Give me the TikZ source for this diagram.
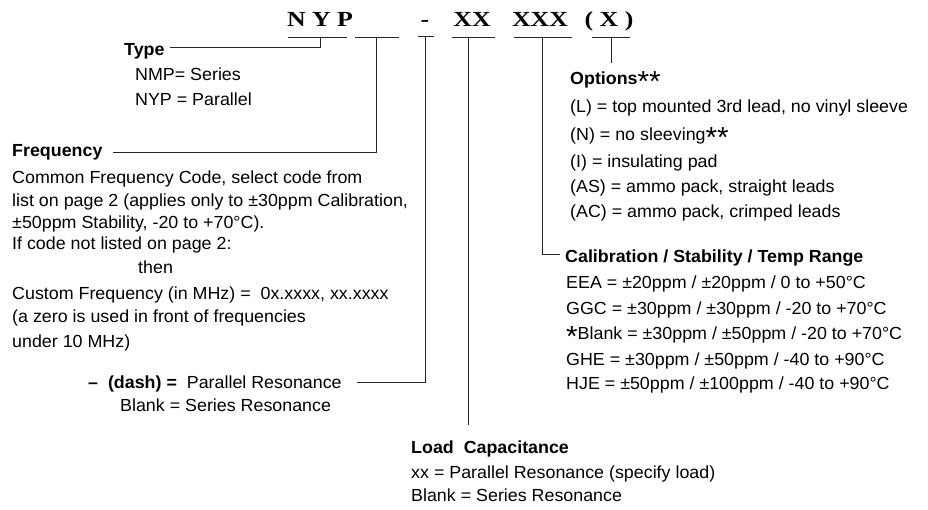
\documentclass[tikz,border=0pt]{standalone}
\usepackage{fontspec}
\setmainfont{Liberation Sans}[FakeStretch=1.02]
\newfontfamily\hdrfont{Liberation Serif}[FakeStretch=1.2]
\newcommand{\bigast}[1]{{\fontsize{29}{29}\selectfont\raisebox{-7pt}{#1}}}
\begin{document}
\begin{tikzpicture}[x=1pt,y=-1pt,
  txt/.style={anchor=base west,inner sep=0pt,font=\fontsize{17.5}{20}\selectfont},
  hdr/.style={anchor=base,inner sep=0pt,font=\hdrfont\bfseries\fontsize{21.5}{24}\selectfont},
  conn/.style={draw=black!85,line width=1pt}]
\useasboundingbox (0,0) rectangle (928,510);
% header codes
\node[hdr] (hNYP) at (320,27) {N Y P};
\node[hdr] (hDash) at (425,27) {-};
\node[hdr] (hXX) at (472,27) {XX};
\node[hdr] (hXXX) at (540,27) {XXX};
\node[hdr] (hX) at (609,27) {( X )};
% underline coordinates
\coordinate (uA1) at (288,38); \coordinate (uA2) at (347,38);
\coordinate (uB1) at (355,38); \coordinate (uB2) at (399,38);
\coordinate (uC1) at (418,37); \coordinate (uC2) at (434,37);
\coordinate (uD1) at (452,38); \coordinate (uD2) at (495,38);
\coordinate (uE1) at (514,38); \coordinate (uE2) at (572,38);
\coordinate (uF1) at (592,38); \coordinate (uF2) at (630,38);
\foreach \a in {A,B,C,D,E,F}{\draw[conn] (u\a1) -- (u\a2);}
% Type
\node[txt] (ltype) at (124,56) {\bfseries Type};
\node[txt] (ltype1) at (135,81) {NMP= Series};
\node[txt] (ltype2) at (135,106) {NYP = Parallel};
\coordinate (cType0) at (320,38);
\coordinate (cType1) at (170,48);
\draw[conn] (cType0) |- (cType1);
% Frequency
\node[txt] (lfreq) at (12,157) {\bfseries Frequency};
\node[txt] (lf1) at (12,184) {Common Frequency Code, select code from};
\node[txt] (lf2) at (12,207) {list on page 2 (applies only to ±30ppm Calibration,};
\node[txt] (lf3) at (12,229) {±50ppm Stability, -20 to +70°C).};
\node[txt] (lf4) at (12,250) {If code not listed on page 2:};
\node[txt] (lf5) at (138,274) {then};
\node[txt] (lf6) at (12,299) {Custom Frequency (in MHz) = \ 0x.xxxx, xx.xxxx};
\node[txt] (lf7) at (12,323) {(a zero is used in front of frequencies};
\node[txt] (lf8) at (12,347) {under 10 MHz)};
\coordinate (cFreq0) at (376,38);
\coordinate (cFreq1) at (113,153);
\draw[conn] (cFreq0) |- (cFreq1);
% Dash
\node[txt] (ldash) at (88,388) {{\bfseries – \ (dash) =} \ Parallel Resonance};
\node[txt] (ldash2) at (120,411) {Blank = Series Resonance};
\coordinate (cDash0) at (425,37);
\coordinate (cDash1) at (357,382);
\draw[conn] (cDash0) |- (cDash1);
% Load capacitance
\node[txt] (lload) at (411,453) {\bfseries Load \ Capacitance};
\node[txt] (lload1) at (411,478) {xx = Parallel Resonance (specify load)};
\node[txt] (lload2) at (411,501) {Blank = Series Resonance};
\coordinate (cLoad0) at (468,38);
\coordinate (cLoad1) at (468,425);
\draw[conn] (cLoad0) -- (cLoad1);
% Calibration
\node[txt] (lcal) at (565,263) {\bfseries Calibration / Stability / Temp Range};
\node[txt] (lc1) at (566,289) {EEA = ±20ppm / ±20ppm / 0 to +50°C};
\node[txt] (lc2) at (566,314) {GGC = ±30ppm / ±30ppm / -20 to +70°C};
\node[txt] (lc3) at (566,339) {\bigast{*}Blank = ±30ppm / ±50ppm / -20 to +70°C};
\node[txt] (lc4) at (566,365) {GHE = ±30ppm / ±50ppm / -40 to +90°C};
\node[txt] (lc5) at (566,389) {HJE = ±50ppm / ±100ppm / -40 to +90°C};
\coordinate (cCal0) at (542,38);
\coordinate (cCal1) at (560,255);
\draw[conn] (cCal0) |- (cCal1);
% Options
\node[txt] (lopt) at (570,85) {{\bfseries Options}\bigast{**}};
\node[txt] (lo1) at (570,113) {(L) = top mounted 3rd lead, no vinyl sleeve};
\node[txt] (lo2) at (570,141) {(N) = no sleeving\bigast{**}};
\node[txt] (lo3) at (570,168) {(I) = insulating pad};
\node[txt] (lo4) at (570,193) {(AS) = ammo pack, straight leads};
\node[txt] (lo5) at (570,218) {(AC) = ammo pack, crimped leads};
\coordinate (cOpt0) at (611,38);
\coordinate (cOpt1) at (611,63);
\draw[conn] (cOpt0) -- (cOpt1);
\end{tikzpicture}
\end{document}
